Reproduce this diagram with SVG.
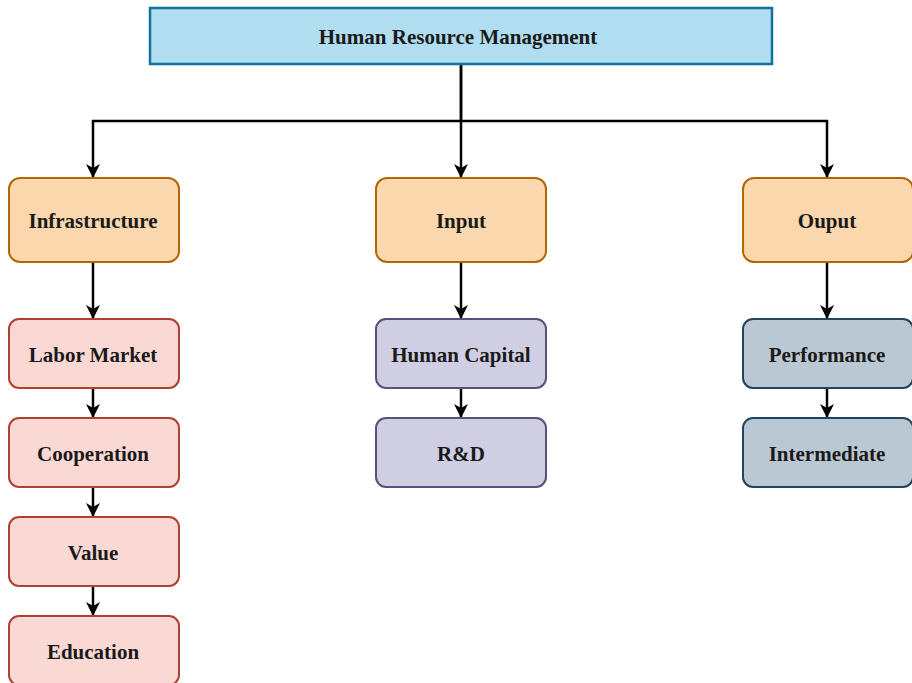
<svg xmlns="http://www.w3.org/2000/svg" width="912" height="683" viewBox="0 0 912 683">
<defs>
<style>
.t{font-family:"Liberation Serif","Times New Roman",serif;font-weight:bold;font-size:21px;fill:#1a1a1a;text-anchor:middle;dominant-baseline:central}
.or{fill:#fad7ac;stroke:#b46504;stroke-width:2}
.pk{fill:#fad9d5;stroke:#ae4132;stroke-width:2}
.pu{fill:#d0cee2;stroke:#56517e;stroke-width:2}
.gr{fill:#bac8d3;stroke:#23445d;stroke-width:2}
.c{fill:none;stroke:#000;stroke-width:2.5}
</style>
<marker id="ah" viewBox="0 0 14 14" refX="13" refY="7" markerWidth="14" markerHeight="14" markerUnits="userSpaceOnUse" orient="auto">
<path d="M0,0 L14,7 L0,14 L4,7 Z" fill="#000"/>
</marker>
</defs>
<rect width="912" height="683" fill="#fff"/>
<g id="connectors">
<path class="c" d="M461,64 V121 H93 V177" marker-end="url(#ah)"/>
<path class="c" d="M461,64 V177" marker-end="url(#ah)"/>
<path class="c" d="M461,121 H827 V177" marker-end="url(#ah)"/>
<path class="c" d="M93,262 V318" marker-end="url(#ah)"/>
<path class="c" d="M93,388 V417" marker-end="url(#ah)"/>
<path class="c" d="M93,487 V516" marker-end="url(#ah)"/>
<path class="c" d="M93,586 V615" marker-end="url(#ah)"/>
<path class="c" d="M461,262 V318" marker-end="url(#ah)"/>
<path class="c" d="M461,388 V417" marker-end="url(#ah)"/>
<path class="c" d="M827,262 V318" marker-end="url(#ah)"/>
<path class="c" d="M827,388 V417" marker-end="url(#ah)"/>
</g>
<g id="hrm"><rect x="150" y="8" width="622" height="56" fill="#b1ddf0" stroke="#10739e" stroke-width="2.5"/><text class="t" x="458" y="37">Human Resource Management</text></g>
<g id="infrastructure"><rect class="or" x="9" y="178" width="170" height="84" rx="11"/><text class="t" x="93" y="221">Infrastructure</text></g>
<g id="input"><rect class="or" x="376" y="178" width="170" height="84" rx="11"/><text class="t" x="461" y="221">Input</text></g>
<g id="output"><rect class="or" x="743" y="178" width="170" height="84" rx="11"/><text class="t" x="827" y="221">Ouput</text></g>
<g id="labor"><rect class="pk" x="9" y="319" width="170" height="69" rx="10"/><text class="t" x="93" y="355">Labor Market</text></g>
<g id="cooperation"><rect class="pk" x="9" y="418" width="170" height="69" rx="10"/><text class="t" x="93" y="454">Cooperation</text></g>
<g id="value"><rect class="pk" x="9" y="517" width="170" height="69" rx="10"/><text class="t" x="93" y="553">Value</text></g>
<g id="education"><rect class="pk" x="9" y="616" width="170" height="69" rx="10"/><text class="t" x="93" y="652">Education</text></g>
<g id="humancapital"><rect class="pu" x="376" y="319" width="170" height="69" rx="10"/><text class="t" x="461" y="355">Human Capital</text></g>
<g id="rd"><rect class="pu" x="376" y="418" width="170" height="69" rx="10"/><text class="t" x="461" y="454">R&amp;D</text></g>
<g id="performance"><rect class="gr" x="743" y="319" width="170" height="69" rx="10"/><text class="t" x="827" y="355">Performance</text></g>
<g id="intermediate"><rect class="gr" x="743" y="418" width="170" height="69" rx="10"/><text class="t" x="827" y="454">Intermediate</text></g>
</svg>
